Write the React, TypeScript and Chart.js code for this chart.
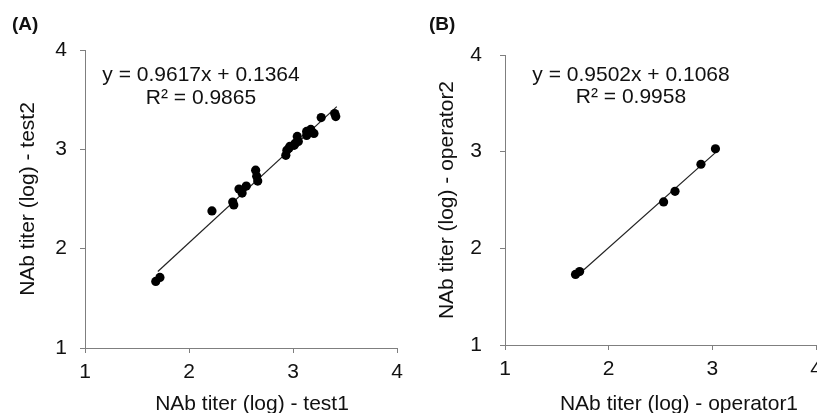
import React, { useEffect, useRef } from "react";
import { Chart, registerables } from "chart.js";

Chart.register(...registerables);

// ---- Data ----
const tickValues = [1, 2, 3, 4];

const test1 = [1.68, 1.72, 2.22, 2.42, 2.43, 2.48, 2.51, 2.55, 2.64, 2.65, 2.66, 2.93, 2.94, 2.96, 2.97, 3.01, 3.02, 3.04, 3.05, 3.13, 3.13, 3.17, 3.2, 3.27, 3.4, 3.41];
const test2 = [1.67, 1.71, 2.38, 2.47, 2.44, 2.6, 2.56, 2.63, 2.79, 2.73, 2.68, 2.94, 2.99, 3.01, 3.03, 3.04, 3.06, 3.13, 3.08, 3.18, 3.14, 3.2, 3.16, 3.32, 3.36, 3.33];
const trendA_x = [1.7, 3.42];
const trendA_y = [1.77, 3.43];
const equationA = ["y = 0.9617x + 0.1364", "R² = 0.9865"];

const operator1 = [1.68, 1.72, 2.53, 2.64, 2.89, 3.03];
const operator2 = [1.73, 1.76, 2.48, 2.59, 2.87, 3.03];
const trendB_x = [1.72, 3.03];
const trendB_y = [1.74, 2.99];
const equationB = ["y = 0.9502x + 0.1068", "R² = 0.9958"];

const FONT = "'Liberation Sans', Arial, Helvetica, sans-serif";
const TEXT = "#111111";
const AXIS = "#7f7f7f";

type PanelCfg = {
  label: string;
  xs: number[];
  ys: number[];
  tx: number[];
  ty: number[];
  eq: string[];
  xTitle: string;
  yTitle: string;
  width: number;
  yAxisWidth: number;
  xAxisHeight: number;
  padTop: number;
  padRight: number;
  yTickPad: number;
  yTitlePad: number;
  eqX: number;
  eqY: number[];
  labelX: number;
  xTitleX: number;
};

const panels: PanelCfg[] = [
  {
    label: "(A)", xs: test1, ys: test2, tx: trendA_x, ty: trendA_y, eq: equationA,
    xTitle: "NAb titer (log) - test1", yTitle: "NAb titer (log) - test2",
    width: 410, yAxisWidth: 85, xAxisHeight: 65, padTop: 50, padRight: 11,
    yTickPad: 13, yTitlePad: 16, eqX: 201, eqY: [75, 98], labelX: 12, xTitleX: 252,
  },
  {
    label: "(B)", xs: operator1, ys: operator2, tx: trendB_x, ty: trendB_y, eq: equationB,
    xTitle: "NAb titer (log) - operator1", yTitle: "NAb titer (log) - operator2",
    width: 420, yAxisWidth: 95, xAxisHeight: 68, padTop: 55, padRight: 14,
    yTickPad: 18, yTitlePad: 25, eqX: 221, eqY: [75, 97], labelX: 19, xTitleX: 269,
  },
];

function makeConfig(p: PanelCfg): any {
  const points = p.xs.map((x, i) => ({ x, y: p.ys[i] }));
  const trend = p.tx.map((x, i) => ({ x, y: p.ty[i] }));
  const textPlugin = {
    id: "annot" + p.label,
    afterDraw(chart: any) {
      const ctx = chart.ctx;
      ctx.save();
      ctx.fillStyle = TEXT;
      ctx.textBaseline = "middle";
      ctx.font = `bold 19px ${FONT}`;
      ctx.textAlign = "left";
      ctx.fillText(p.label, p.labelX, 25);
      ctx.font = `21px ${FONT}`;
      ctx.textAlign = "center";
      p.eq.forEach((t, i) => ctx.fillText(t, p.eqX, p.eqY[i]));
      ctx.fillText(p.xTitle, p.xTitleX, 404);
      ctx.restore();
    },
  };
  const axisCommon = {
    type: "linear",
    min: tickValues[0],
    max: tickValues[tickValues.length - 1],
    border: { display: true, color: AXIS, width: 1 },
    grid: { display: true, drawOnChartArea: false, drawTicks: true, tickLength: 5, color: AXIS, lineWidth: 1 },
  };
  return {
    type: "scatter",
    data: {
      datasets: [
        {
          type: "line",
          data: trend,
          borderColor: "#222222",
          borderWidth: 1.2,
          pointRadius: 0,
          fill: false,
          showLine: true,
          order: 2,
        },
        {
          data: points,
          backgroundColor: "#000000",
          borderColor: "#000000",
          pointRadius: 4.6,
          pointBorderWidth: 0,
          order: 1,
        },
      ],
    },
    options: {
      responsive: false,
      animation: false,
      layout: { padding: { left: 0, top: p.padTop, right: p.padRight, bottom: 0 } },
      plugins: { legend: { display: false }, tooltip: { enabled: false }, title: { display: false } },
      scales: {
        x: {
          ...axisCommon,
          position: "bottom",
          afterFit: (s: any) => { s.height = p.xAxisHeight; },
          afterBuildTicks: (s: any) => { s.ticks = tickValues.map((v) => ({ value: v })); },
          ticks: { color: TEXT, font: { family: FONT, size: 21 }, padding: 7, maxRotation: 0 },
          title: { display: false, text: p.xTitle },
        },
        y: {
          ...axisCommon,
          position: "left",
          afterFit: (s: any) => { s.width = p.yAxisWidth; },
          afterBuildTicks: (s: any) => { s.ticks = tickValues.map((v) => ({ value: v })); },
          ticks: { color: TEXT, font: { family: FONT, size: 21 }, padding: p.yTickPad },
          title: { display: true, text: p.yTitle, color: TEXT, font: { family: FONT, size: 21, lineHeight: 1.2 }, padding: { top: p.yTitlePad, bottom: 0 } },
        },
      },
    },
    plugins: [textPlugin],
  };
}

function Panel({ cfg, left }: { cfg: PanelCfg; left: number }) {
  const ref = useRef<HTMLCanvasElement | null>(null);
  useEffect(() => {
    if (!ref.current) return;
    const chart = new Chart(ref.current, makeConfig(cfg));
    return () => chart.destroy();
  }, [cfg]);
  return (
    <canvas
      ref={ref}
      width={cfg.width}
      height={413}
      style={{ position: "absolute", left, top: 0, width: cfg.width, height: 413, display: "block" }}
    />
  );
}

export default function App() {
  return (
    <div style={{ position: "absolute", left: 0, top: 0, width: 817, height: 413, overflow: "hidden", background: "#ffffff" }}>
      <Panel cfg={panels[0]} left={0} />
      <Panel cfg={panels[1]} left={410} />
    </div>
  );
}
